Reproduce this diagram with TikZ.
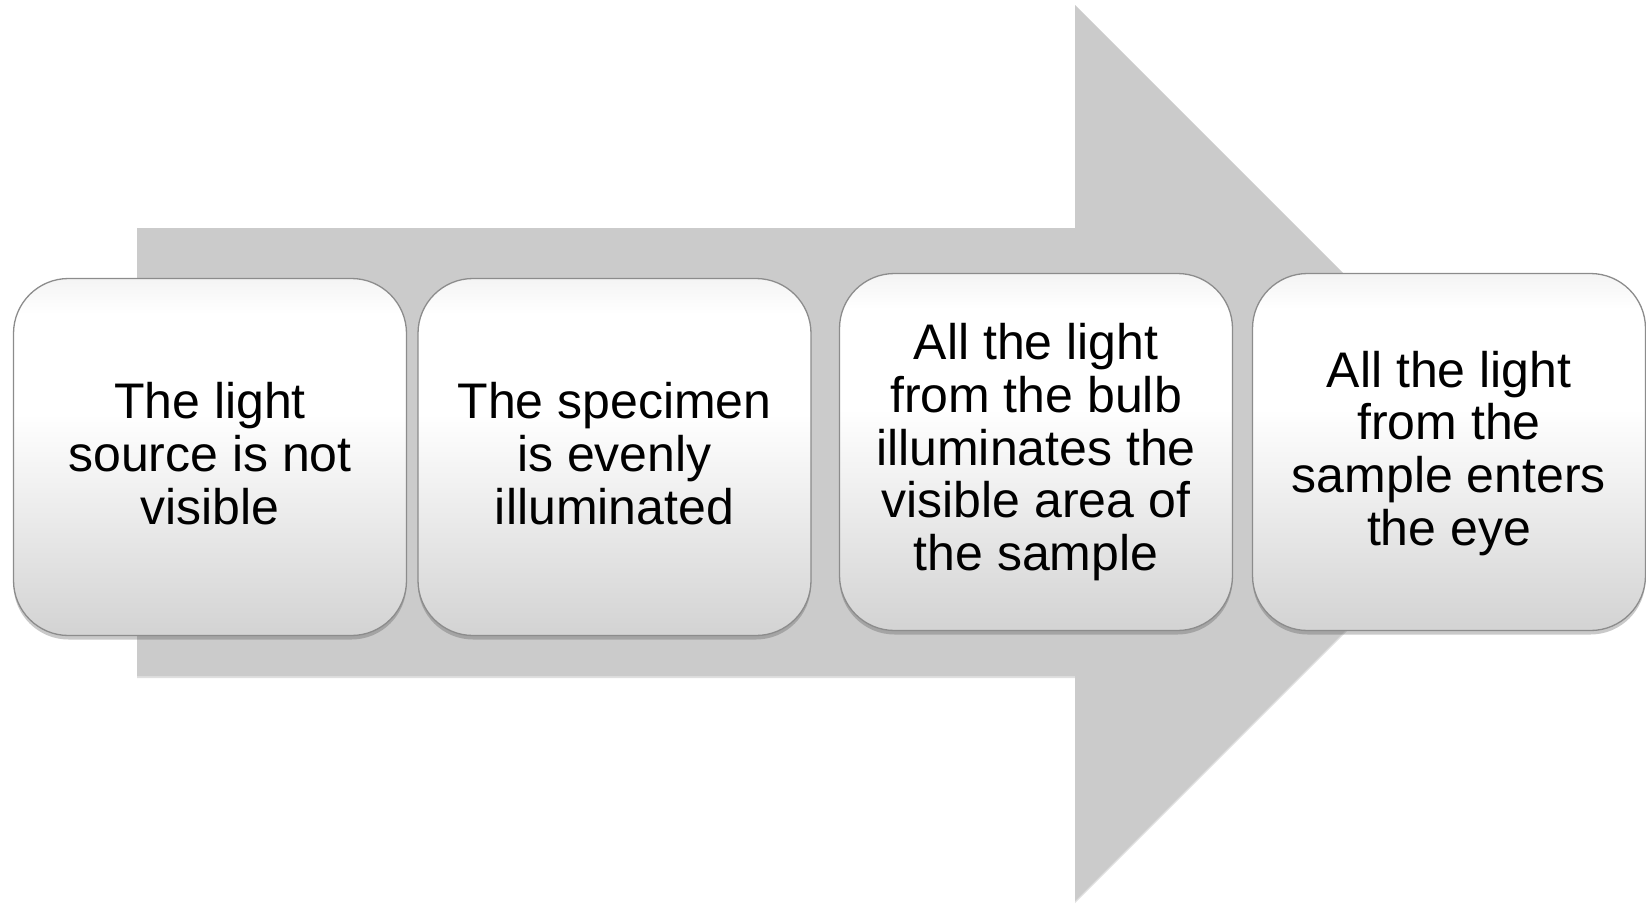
\documentclass[tikz,border=0pt]{standalone}
\usepackage{fontspec}
\setmainfont{Liberation Sans}
\usetikzlibrary{shadows}
\definecolor{arrowgray}{HTML}{CBCBCB}
\definecolor{boxbot}{HTML}{D3D3D3}
\definecolor{boxtop}{HTML}{F4F4F4}
\definecolor{boxline}{HTML}{8C8C8C}
\pgfdeclareverticalshading{boxshade}{100bp}{color(0bp)=(boxbot); color(25bp)=(boxbot); color(56bp)=(white); color(70bp)=(white); color(75bp)=(boxtop); color(100bp)=(boxtop)}
\tikzset{
  stepbox/.style={draw=boxline, line width=1.3pt, rounded corners=55pt, shading=boxshade,
    minimum width=393pt, minimum height=357pt, inner sep=0pt, outer sep=0pt,
    drop shadow={shadow xshift=0pt, shadow yshift=-4pt, opacity=0.30, fill=black!70}},
  steptext/.style={align=center, inner sep=0pt, font=\fontsize{50}{51.75}\selectfont},
  bigarrow/.style={fill=arrowgray, draw=none}
}
\begin{document}
\begin{tikzpicture}[x=1pt,y=-1pt]
\useasboundingbox (0,0) rectangle (1646,903);
% big arrow
\coordinate (a1) at (137,228);
\coordinate (a2) at (1075,228);
\coordinate (a3) at (1075,5);
\coordinate (a4) at (1523,453);
\coordinate (a5) at (1075,901);
\coordinate (a6) at (1075,676);
\coordinate (a7) at (137,676);
\fill[black!25, opacity=0.5] ([yshift=-2pt]a1) -- ([yshift=-2pt]a2) -- ([yshift=-2pt]a3) -- ([yshift=-2pt]a4) -- ([yshift=-2pt]a5) -- ([yshift=-2pt]a6) -- ([yshift=-2pt]a7) -- cycle;
\path[bigarrow] (a1) -- (a2) -- (a3) -- (a4) -- (a5) -- (a6) -- (a7) -- cycle;
% boxes
\node[stepbox] (b1) at (210,457) {};
\node[stepbox] (b2) at (614.5,457) {};
\node[stepbox] (b3) at (1036,452) {};
\node[stepbox] (b4) at (1449,452) {};
% texts
\node[steptext] (t1) at (210,461.3) {\strut The light\\\strut source is not\\\strut visible};
\node[steptext] (t2) at (614.5,461.3) {\strut The specimen\\\strut is evenly\\\strut illuminated};
\node[steptext] (t3) at (1036,454.7) {\strut All the light\\\strut from the bulb\\\strut illuminates the\\\strut visible area of\\\strut the sample};
\node[steptext] (t4) at (1449,455.8) {\strut All the light\\\strut from the\\\strut sample enters\\\strut the eye};
\end{tikzpicture}
\end{document}
